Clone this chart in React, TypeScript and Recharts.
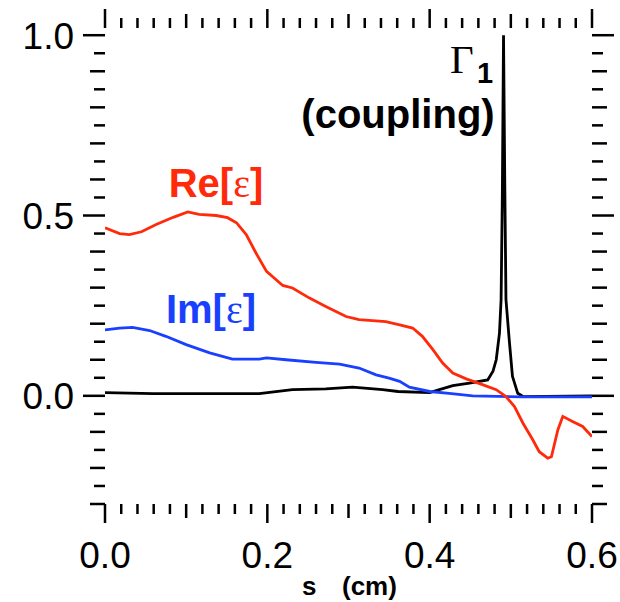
import React from "react";
import { LineChart, Line, XAxis, YAxis } from "recharts";

// Re[eps] (red)
const RE_S = [0, 0.018, 0.03, 0.045, 0.063, 0.084, 0.102, 0.116, 0.137, 0.151, 0.162, 0.174, 0.186, 0.199, 0.219, 0.231, 0.252, 0.272, 0.297, 0.313, 0.346, 0.363, 0.379, 0.391, 0.404, 0.416, 0.4285, 0.445, 0.465, 0.482, 0.494, 0.5045, 0.515, 0.527, 0.535, 0.5455, 0.55, 0.558, 0.564, 0.576, 0.5885, 0.6];
const RE_V = [0.466, 0.45, 0.447, 0.455, 0.475, 0.495, 0.51, 0.503, 0.5, 0.494, 0.48, 0.447, 0.396, 0.345, 0.306, 0.299, 0.271, 0.248, 0.22, 0.211, 0.206, 0.197, 0.188, 0.165, 0.128, 0.091, 0.063, 0.047, 0.031, 0.017, -0.002, -0.03, -0.076, -0.122, -0.155, -0.173, -0.169, -0.094, -0.057, -0.071, -0.085, -0.113];

// Im[eps] (blue)
const IM_S = [0, 0.018, 0.034, 0.055, 0.075, 0.1, 0.129, 0.157, 0.19, 0.199, 0.223, 0.26, 0.289, 0.313, 0.334, 0.35, 0.363, 0.375, 0.4, 0.424, 0.453, 0.515, 0.6];
const IM_V = [0.183, 0.188, 0.19, 0.181, 0.165, 0.142, 0.119, 0.102, 0.102, 0.105, 0.1, 0.093, 0.088, 0.077, 0.058, 0.049, 0.04, 0.024, 0.012, 0.007, 0.0, -0.003, -0.003];

// Gamma_1 coupling (black)
const G_S = [0, 0.059, 0.19, 0.231, 0.272, 0.305, 0.342, 0.361, 0.4, 0.412, 0.4285, 0.449, 0.4715, 0.478, 0.482, 0.486, 0.488, 0.4895, 0.491, 0.4925, 0.494, 0.498, 0.502, 0.5085, 0.515, 0.6];
const G_V = [0.009, 0.006, 0.006, 0.017, 0.019, 0.024, 0.017, 0.012, 0.009, 0.017, 0.028, 0.035, 0.044, 0.068, 0.1, 0.174, 0.267, 0.55, 1.0, 0.6, 0.267, 0.156, 0.054, 0.007, -0.002, 0.0];

const X_DOMAIN = [0, 0.6];
const Y_DOMAIN = [-0.3, 1.02];
const X_LABELS = [0, 0.2, 0.4, 0.6];
const Y_LABELS = [0, 0.5, 1.0];

const RED = "#ff2a0a";
const BLUE = "#1a40ff";
const FONT = "'Liberation Sans', Arial, Helvetica, sans-serif";

const toPts = (s: number[], v: number[]) => s.map((x, i) => ({ s: x, v: v[i] }));
const reData = toPts(RE_S, RE_V);
const imData = toPts(IM_S, IM_V);
const gData = toPts(G_S, G_V);

const steps = (lo: number, hi: number, st: number) => {
  const out: number[] = [];
  for (let k = 0; lo + k * st <= hi + 1e-9; k++) out.push(Number((lo + k * st).toFixed(3)));
  return out;
};
const xTicks = steps(0, 0.6, 0.02);
const yTicks = steps(-0.3, 1.0, 0.05);

const isMult = (v: number, m: number) => Math.abs(v / m - Math.round(v / m)) < 1e-6;
const has = (arr: number[], v: number) => arr.some((a) => Math.abs(a - v) < 1e-6);

const XTick = (p: any) => {
  const { x, y, payload, side } = p;
  const v = payload.value;
  const len = isMult(v, 0.2) ? 19 : isMult(v, 0.1) ? 14 : 10;
  const dir = side === "bottom" ? 1 : -1;
  return (
    <g>
      <line x1={x} x2={x} y1={y} y2={y + dir * len} stroke="#000" strokeWidth={2.5} />
      {side === "bottom" && has(X_LABELS, v) && (
        <text x={x} y={y + 64} textAnchor="middle" fontFamily={FONT} fontSize={37} fill="#000">
          {v.toFixed(1)}
        </text>
      )}
    </g>
  );
};

const YTick = (p: any) => {
  const { x, y, payload, side } = p;
  const v = payload.value;
  const len = isMult(v, 0.5) ? 22 : isMult(v, 0.1) ? 15 : 11;
  const dir = side === "left" ? -1 : 1;
  return (
    <g>
      <line x1={x} x2={x + dir * len} y1={y} y2={y} stroke="#000" strokeWidth={2.5} />
      {side === "left" && has(Y_LABELS, v) && (
        <text x={x - 31} y={y} dy="0.36em" textAnchor="end" fontFamily={FONT} fontSize={37} fill="#000">
          {v.toFixed(1)}
        </text>
      )}
    </g>
  );
};

export default function App() {
  return (
    <div style={{ position: "absolute", left: 0, top: 0, width: 620, height: 602, background: "#fff" }}>
      <LineChart width={620} height={602} margin={{ top: 0, right: 0, bottom: 0, left: 0 }}>
        <XAxis
          xAxisId="b"
          dataKey="s"
          type="number"
          domain={X_DOMAIN}
          allowDataOverflow
          ticks={xTicks}
          interval={0}
          height={98}
          axisLine={false}
          tickLine={false}
          tickSize={0}
          tickMargin={0}
          tick={(p: any) => <XTick {...p} side="bottom" />}
        />
        <XAxis
          xAxisId="t"
          orientation="top"
          dataKey="s"
          type="number"
          domain={X_DOMAIN}
          allowDataOverflow
          ticks={xTicks}
          interval={0}
          height={28}
          axisLine={false}
          tickLine={false}
          tickSize={0}
          tickMargin={0}
          tick={(p: any) => <XTick {...p} side="top" />}
        />
        <YAxis
          yAxisId="l"
          type="number"
          domain={Y_DOMAIN}
          allowDataOverflow
          ticks={yTicks}
          interval={0}
          width={105}
          axisLine={false}
          tickLine={false}
          tickSize={0}
          tickMargin={0}
          tick={(p: any) => <YTick {...p} side="left" />}
        />
        <YAxis
          yAxisId="r"
          orientation="right"
          type="number"
          domain={Y_DOMAIN}
          allowDataOverflow
          ticks={yTicks}
          interval={0}
          width={28}
          axisLine={false}
          tickLine={false}
          tickSize={0}
          tickMargin={0}
          tick={(p: any) => <YTick {...p} side="right" />}
        />
        <Line xAxisId="b" yAxisId="l" data={gData} dataKey="v" type="linear" stroke="#000" strokeWidth={2.8} dot={false} isAnimationActive={false} />
        <Line xAxisId="b" yAxisId="l" data={imData} dataKey="v" type="linear" stroke={BLUE} strokeWidth={2.8} dot={false} isAnimationActive={false} />
        <Line xAxisId="b" yAxisId="l" data={reData} dataKey="v" type="linear" stroke={RED} strokeWidth={2.8} dot={false} isAnimationActive={false} />
      </LineChart>
      <svg width={620} height={602} style={{ position: "absolute", left: 0, top: 0, pointerEvents: "none" }}>
        <text x={450} y={73} fontFamily="'Liberation Serif', 'Times New Roman', serif" fontSize={41} fill="#000">Γ</text>
        <text x={477} y={83} fontFamily={FONT} fontWeight="bold" fontSize={29} fill="#000">1</text>
        <text x={398} y={128} textAnchor="middle" fontFamily={FONT} fontWeight="bold" fontSize={40} fill="#000">(coupling)</text>
        <text x={216} y={197} textAnchor="middle" fontFamily={FONT} fontWeight="bold" fontSize={40} fill={RED}>
          Re[<tspan fontFamily="'Liberation Serif', serif" fontWeight="normal">ε</tspan>]
        </text>
        <text x={211} y={323} textAnchor="middle" fontFamily={FONT} fontWeight="bold" fontSize={40} fill={BLUE}>
          Im[<tspan fontFamily="'Liberation Serif', serif" fontWeight="normal">ε</tspan>]
        </text>
        <text x={302} y={595} fontFamily={FONT} fontWeight="bold" fontSize={26} fill="#000">s</text>
        <text x={342} y={595} fontFamily={FONT} fontWeight="bold" fontSize={26} fill="#000">(cm)</text>
      </svg>
    </div>
  );
}
